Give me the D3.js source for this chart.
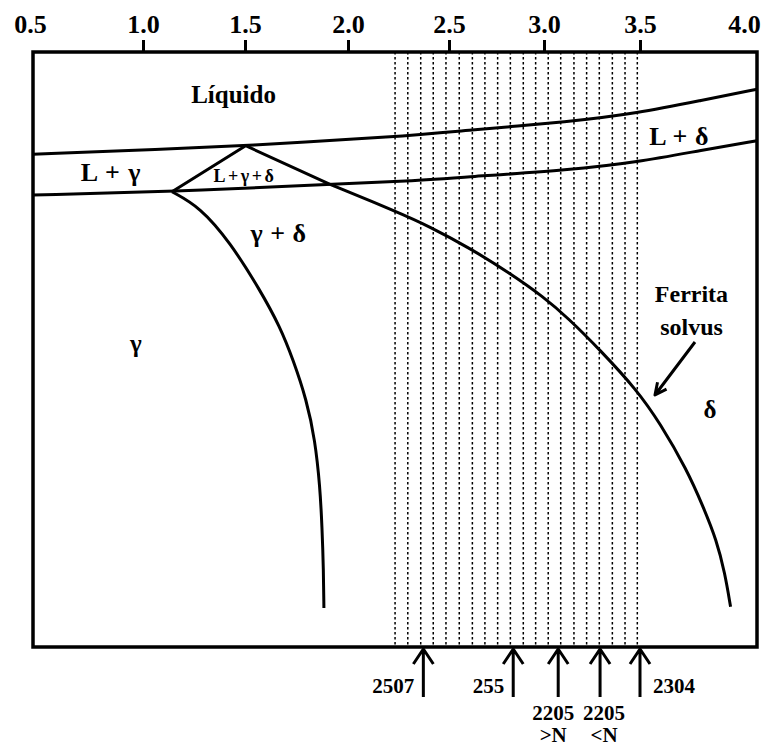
<!DOCTYPE html>
<html>
<head>
<meta charset="utf-8">
<script src="https://cdn.jsdelivr.net/npm/d3@7"></script>
<style>
  body { margin: 0; background: #fff; }
  svg { display: block; }
  text { font-family: "Liberation Serif", "Times New Roman", serif; font-weight: bold; fill: #000; }
  .curve { fill: none; stroke: #000; stroke-width: 3; stroke-linejoin: round; }
  .alloy_line { stroke: #000; stroke-width: 1.5; stroke-dasharray: 2.5,2.5; }
</style>
</head>
<body>
<div id="chart"></div>
<script>
// x = Creq/Nieq ratio, T = relative temperature (0 bottom, 100 top)
var x_ticks = [0.5, 1.0, 1.5, 2.0, 2.5, 3.0, 3.5, 4.0];

var liquidus = [
  [0.5, 82.8], [1.0, 83.55], [1.503, 84.25], [2.257, 85.77], [2.61, 86.89],
  [3.135, 88.29], [3.483, 89.70], [3.769, 91.93], [4.0, 93.73]
];
var solidus = [
  [0.5, 75.97], [1.142, 76.52], [1.913, 77.77], [2.257, 78.20], [2.61, 79.04],
  [3.135, 80.17], [3.483, 81.46], [3.769, 83.53], [4.0, 85.09]
];
// L + gamma + delta triangle: left vertex, peak, right vertex
var three_phase = [[1.142, 76.52], [1.503, 84.25], [1.913, 77.77]];
var ferrite_solvus = [
  [1.913, 77.77], [2.241, 73.16], [2.406, 70.64], [2.611, 67.01], [2.821, 62.81],
  [2.996, 58.87], [3.127, 55.24], [3.292, 49.92], [3.484, 43.19], [3.585, 37.65],
  [3.701, 29.75], [3.770, 23.58], [3.827, 17.98], [3.863, 12.39], [3.887, 6.77]
];
var gamma_delta = [
  [1.142, 76.52], [1.279, 73.95], [1.426, 68.07], [1.573, 60.00], [1.670, 53.83],
  [1.734, 48.24], [1.799, 41.51], [1.840, 34.79], [1.864, 26.94], [1.874, 20.17],
  [1.881, 12.94], [1.883, 6.55]
];

// vertical dotted lines (alloy range)
var alloy_lines = [2.233, 2.296, 2.360, 2.422, 2.485, 2.554, 2.623, 2.689, 2.756, 2.823,
                   2.891, 2.956, 3.022, 3.087, 3.156, 3.222, 3.288, 3.356, 3.422, 3.486];

var alloys = [
  {x: 2.373, lines: ["2507"], side: "left"},
  {x: 2.838, lines: ["255"], side: "left"},
  {x: 3.074, lines: ["2205", ">N"], side: "below"},
  {x: 3.292, lines: ["2205", "<N"], side: "below"},
  {x: 3.5, lines: ["2304"], side: "right"}
];

var region_labels = [
  {text: "Líquido", x: 1.444, T: 91.43, size: 25, spacing: 0},
  {text: "L + γ", x: 0.855, T: 78.32, size: 26, spacing: 1},
  {text: "L+γ+δ", x: 1.5, T: 78.15, size: 18, spacing: 2.5},
  {text: "γ + δ", x: 1.663, T: 68.07, size: 26, spacing: 0.5},
  {text: "γ", x: 0.968, T: 49.58, size: 25, spacing: 0},
  {text: "δ", x: 3.799, T: 38.49, size: 25, spacing: 0},
  {text: "L + δ", x: 3.667, T: 84.37, size: 26, spacing: 0.5},
  {text: "Ferrita", x: 3.72, T: 57.98, size: 24, spacing: 0},
  {text: "solvus", x: 3.72, T: 52.44, size: 24, spacing: 0}
];
var solvus_pointer = [[3.735, 51.26], [3.564, 42.35]];

var width = 766, height = 747;

var svg = d3.select("#chart").append("svg")
            .attr("width", width)
            .attr("height", height);

var x = d3.scaleLinear()
          .domain(x_ticks)
          .range([33, 143, 245, 348, 449, 544, 640, 757]);
var y = d3.scaleLinear()
          .domain([0, 100])
          .range([647, 52]);

var line = d3.line()
             .x(function(d) { return x(d[0]); })
             .y(function(d) { return y(d[1]); });
var smooth = d3.line()
               .x(function(d) { return x(d[0]); })
               .y(function(d) { return y(d[1]); })
               .curve(d3.curveBasis);

// dotted alloy lines
svg.append("g").selectAll("line")
   .data(alloy_lines)
   .enter()
   .append("line")
   .attr("class", "alloy_line")
   .attr("x1", function(d) { return x(d); })
   .attr("x2", function(d) { return x(d); })
   .attr("y1", y(100))
   .attr("y2", y(0));

// top axis
var x_axis = d3.axisTop(x)
               .tickValues(x_ticks)
               .tickSize(12)
               .tickPadding(7)
               .tickFormat(d3.format(".1f"));
var axis_g = svg.append("g")
                .attr("transform", "translate(0," + y(100) + ")")
                .call(x_axis);
axis_g.select(".domain").remove();
axis_g.selectAll(".tick line").attr("stroke", "#000").attr("stroke-width", 3)
      .filter(function(d) { return d === 0.5 || d === 4.0; }).remove();
axis_g.selectAll(".tick text")
      .attr("fill", "#000")
      .style("font-family", "'Liberation Serif', 'Times New Roman', serif")
      .style("font-weight", "bold")
      .style("font-size", "26px")
      .attr("dx", function(d) { return d === 0.5 ? -3 : (d === 4.0 ? -13 : 0); });

// phase boundaries
svg.append("path").datum(liquidus).attr("class", "curve").attr("d", smooth);
svg.append("path").datum(solidus).attr("class", "curve").attr("d", smooth);
svg.append("path").datum(three_phase).attr("class", "curve").attr("d", line);
svg.append("path").datum(ferrite_solvus).attr("class", "curve").attr("d", smooth);
svg.append("path").datum(gamma_delta).attr("class", "curve").attr("d", smooth);

// frame
svg.append("rect")
   .attr("x", x(0.5))
   .attr("y", y(100))
   .attr("width", x(4.0) - x(0.5))
   .attr("height", y(0) - y(100))
   .attr("fill", "none")
   .attr("stroke", "#000")
   .attr("stroke-width", 3.5);

// region labels
svg.append("g").selectAll("text")
   .data(region_labels)
   .enter()
   .append("text")
   .attr("x", function(d) { return x(d.x); })
   .attr("y", function(d) { return y(d.T); })
   .attr("text-anchor", "middle")
   .style("font-size", function(d) { return d.size + "px"; })
   .style("letter-spacing", function(d) { return d.spacing + "px"; })
   .text(function(d) { return d.text; });

// ferrite solvus pointer
var p0 = [x(solvus_pointer[0][0]), y(solvus_pointer[0][1])];
var p1 = [x(solvus_pointer[1][0]), y(solvus_pointer[1][1])];
var ang = Math.atan2(p0[1] - p1[1], p0[0] - p1[0]);
var head = 13, spread = 0.45;
svg.append("path")
   .attr("class", "curve")
   .attr("stroke-width", 2.5)
   .attr("d", "M" + p0 + "L" + p1 +
              "M" + [p1[0] + head * Math.cos(ang - spread), p1[1] + head * Math.sin(ang - spread)] +
              "L" + p1 +
              "L" + [p1[0] + head * Math.cos(ang + spread), p1[1] + head * Math.sin(ang + spread)]);

// alloy arrows under the frame
var arrow_g = svg.append("g").selectAll("g")
                 .data(alloys)
                 .enter()
                 .append("g")
                 .attr("transform", function(d) { return "translate(" + x(d.x) + "," + y(0) + ")"; });
arrow_g.append("path")
       .attr("class", "curve")
       .attr("d", "M0,2L0,50M-10,17L0,2L10,17");
arrow_g.each(function(d) {
  var g = d3.select(this);
  d.lines.forEach(function(t, i) {
    var tx = 0, anchor = "middle", ty = 46;
    if (d.side === "left") { tx = -9; anchor = "end"; }
    else if (d.side === "right") { tx = 13; anchor = "start"; }
    else { ty = 73 + i * 22; tx = d.x < 3.2 ? -5 : 4; }
    g.append("text")
     .attr("x", tx)
     .attr("y", ty)
     .attr("text-anchor", anchor)
     .style("font-size", "21px")
     .text(t);
  });
});
</script>
</body>
</html>
